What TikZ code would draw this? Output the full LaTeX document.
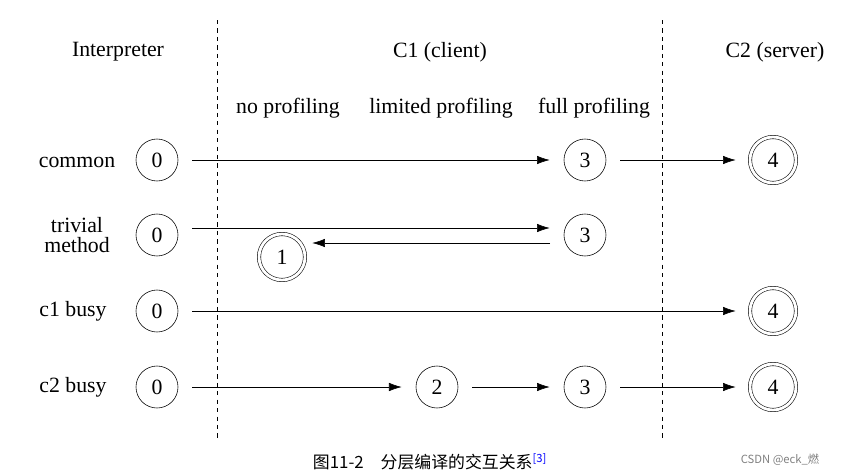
\documentclass[tikz,border=0pt]{standalone}
\usepackage{fontspec}
\setmainfont{Liberation Serif}
\newfontfamily\cjk{Noto Sans CJK SC}
\usetikzlibrary{arrows.meta,positioning}
\begin{document}
\begin{tikzpicture}[x=0.025cm,y=-0.025cm,font=\fontsize{15.5}{17}\selectfont]
  \tikzset{LevelStyle/.style = {shape        = circle,
                                draw,
                                inner sep    = 0pt,
                                minimum size = 1.05cm},
           TopStyle/.style   = {LevelStyle,
                                double,
                                double distance = 2pt,
                                minimum size    = 1.15cm},
           Tip/.style        = {-{Latex[length=9pt,width=6pt]}, thin},
           Flow/.style       = {Tip, shorten <=10pt, shorten >=10pt}}
  \useasboundingbox (0,0) rectangle (843,474);
  %%% COLONNES %%%
  \coordinate (lt) at (217,20); \coordinate (lb) at (217,440);
  \coordinate (rt) at (662,20); \coordinate (rb) at (662,440);
  \draw[dashed] (lt) -- (lb);
  \draw[dashed] (rt) -- (rb);
  \node (hint) at (118,52) {Interpreter};
  \node (hc1)  at (440,52) {C1 (client)};
  \node (hc2)  at (775,52) {C2 (server)};
  \node (pno)   at (288,108) {no profiling};
  \node (plim)  at (441,108) {limited profiling};
  \node (pfull) at (594,108) {full profiling};
  %%% LIGNES %%%
  \node (lcom) at (77,162) {common};
  \node[align=center, font=\fontsize{15.5}{14}\selectfont] (ltri) at (77,235) {trivial\\method};
  \node (lc1) at (73,311) {c1 busy};
  \node (lc2) at (73,387) {c2 busy};
  %
  \node[LevelStyle] (z1) at (157,160) {0};
  \node[LevelStyle] (t1) at (585,160) {3};
  \node[TopStyle]   (f1) at (773,160) {4};
  \draw[Flow] (z1) -- (t1);
  \draw[Flow] (t1) -- (f1);
  %
  \node[LevelStyle] (z2) at (157,235) {0};
  \node[LevelStyle] (t2) at (585,235) {3};
  \node[TopStyle]   (o2) at (282,257) {1};
  \draw[Flow] (z2.east |- 0,228) -- (t2.west |- 0,228);
  \coordinate (b2) at (550,243);
  \draw[Tip] (b2) -- ([xshift=5pt]o2.east |- b2);
  %
  \node[LevelStyle] (z3) at (157,311) {0};
  \node[TopStyle]   (f3) at (773,311) {4};
  \draw[Flow] (z3) -- (f3);
  %
  \node[LevelStyle] (z4) at (157,387) {0};
  \node[LevelStyle] (w4) at (437,387) {2};
  \node[LevelStyle] (t4) at (585,387) {3};
  \node[TopStyle]   (f4) at (773,387) {4};
  \draw[Flow] (z4) -- (w4);
  \draw[Flow] (w4) -- (t4);
  \draw[Flow] (t4) -- (f4);
  %%% LEGENDE %%%
  \node (cap) at (430,462) {\cjk\fontsize{12}{14}\selectfont 图11-2\quad 分层编译的交互关系\textsuperscript{\color{blue}[3]}};
  \node[text=gray] (mark) at (780,460) {\cjk\fontsize{8}{10}\selectfont CSDN @eck\_燃};
\end{tikzpicture}
\end{document}
